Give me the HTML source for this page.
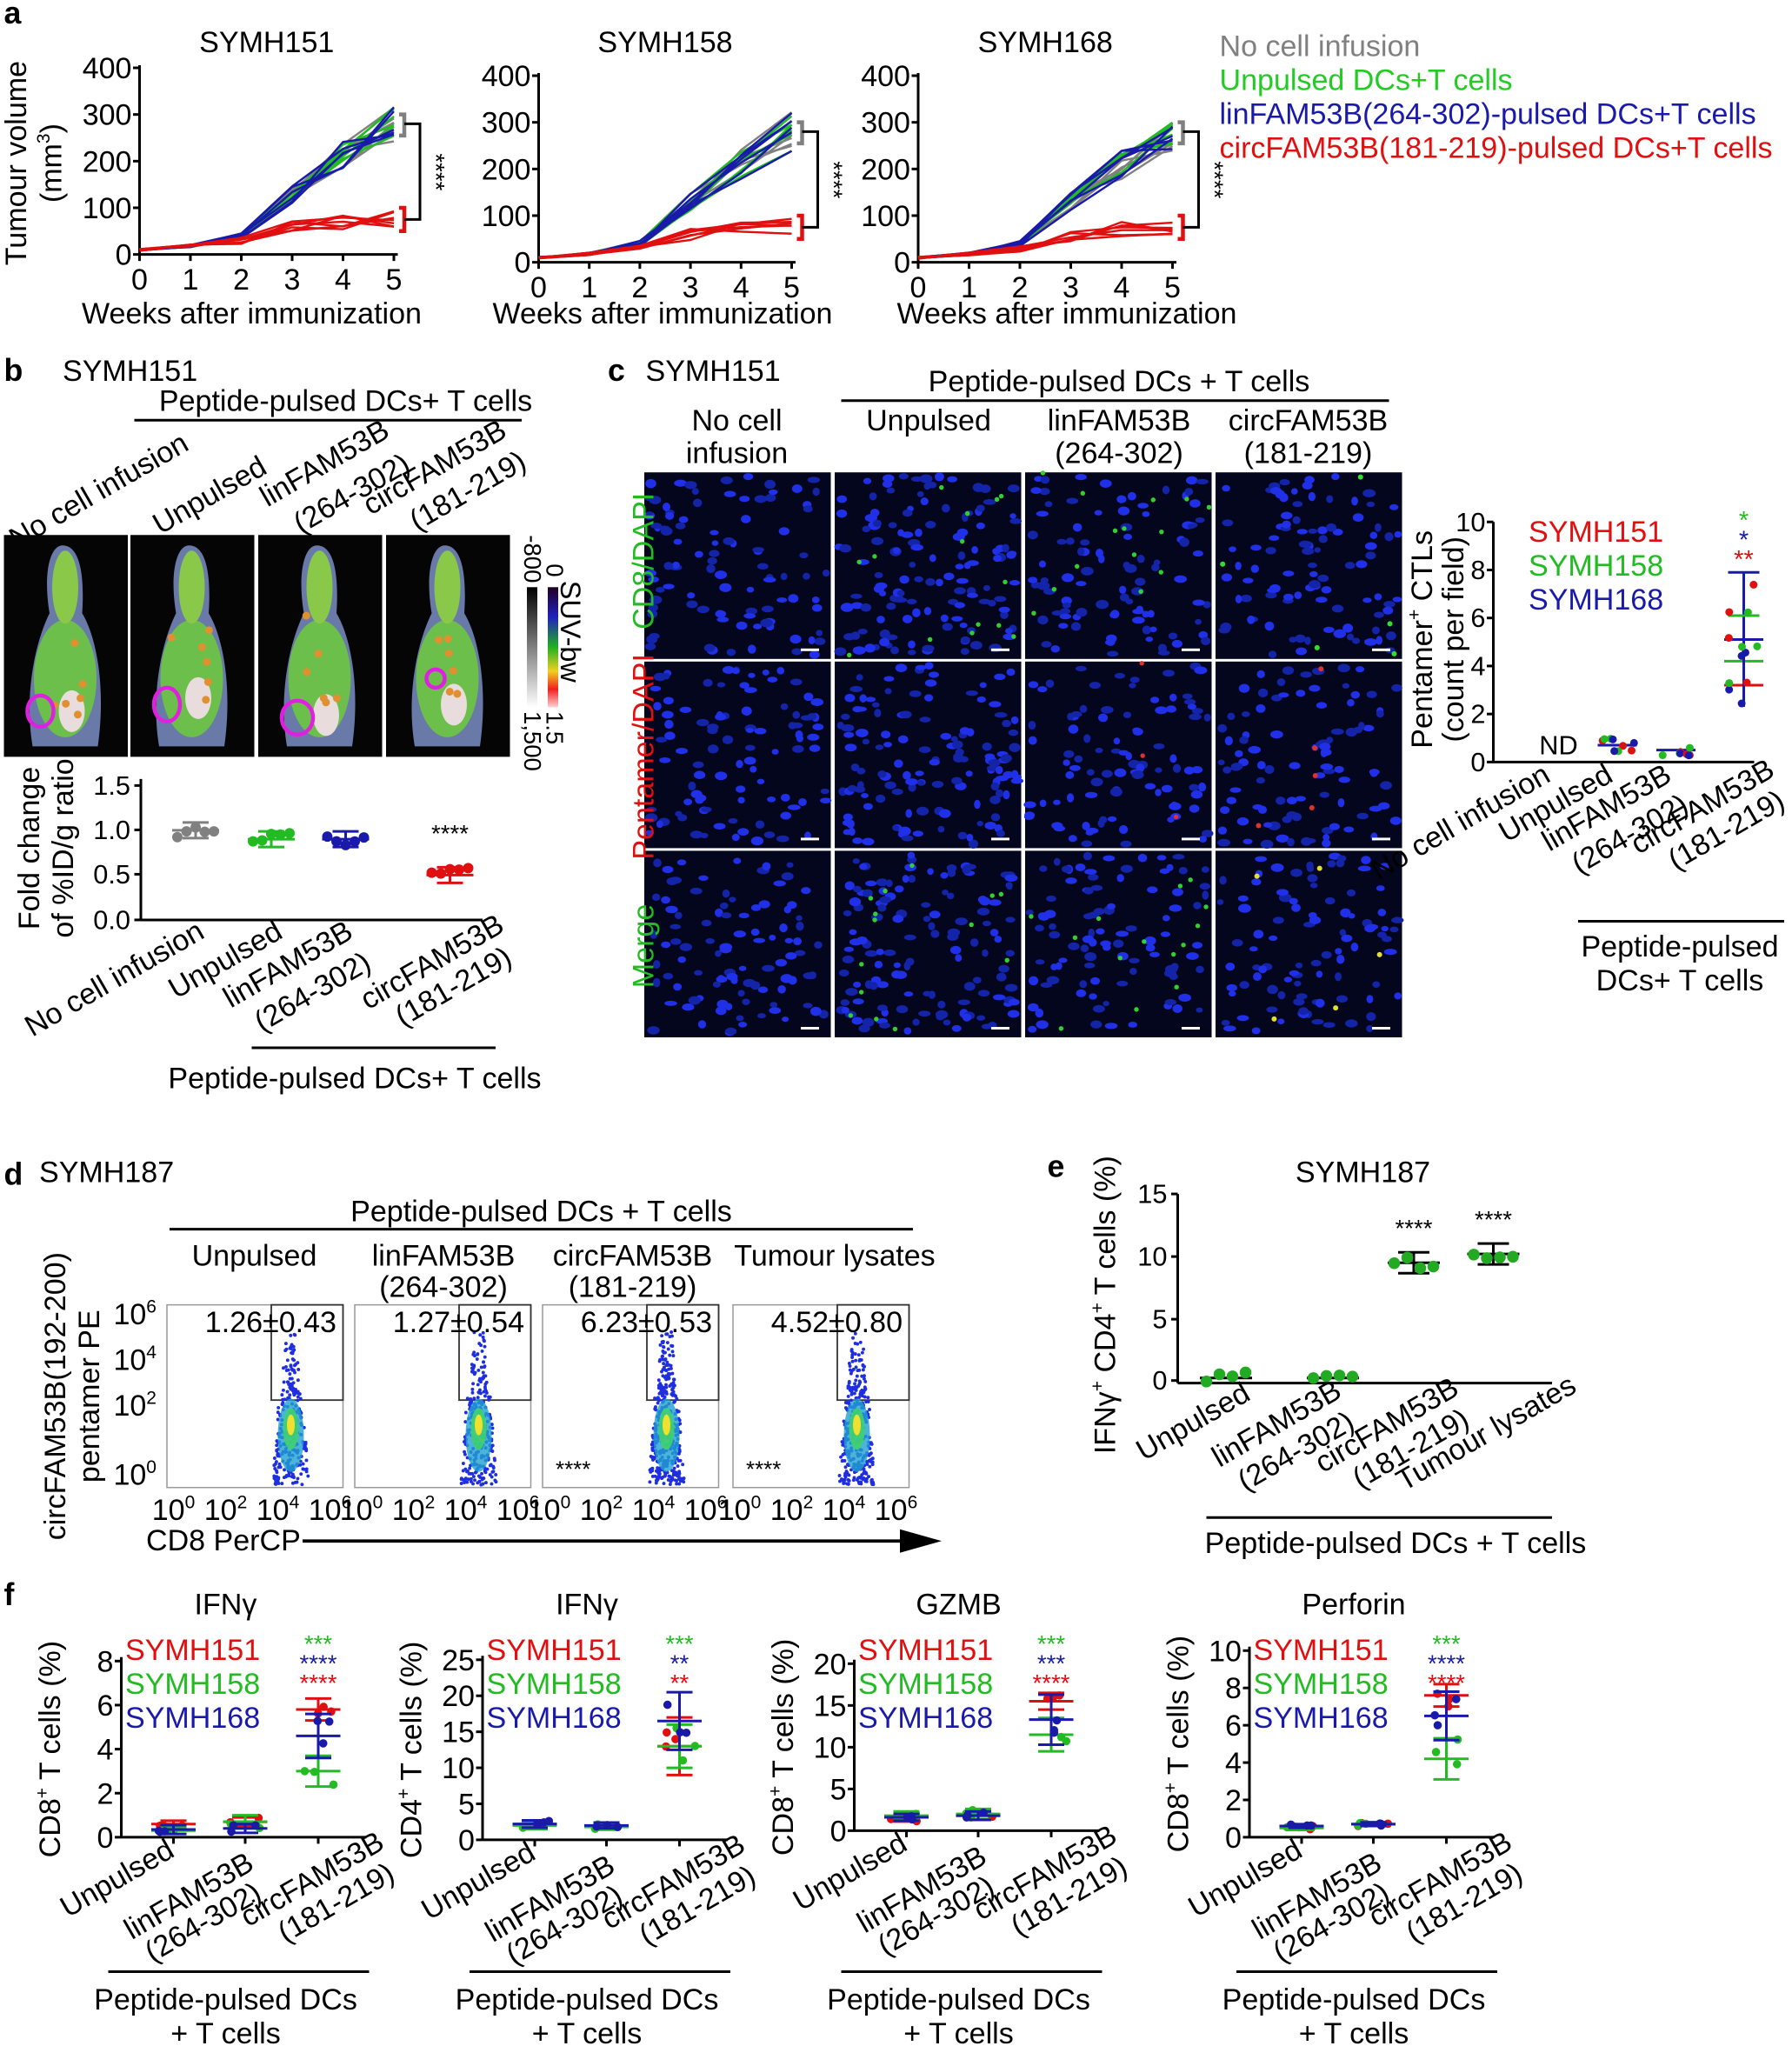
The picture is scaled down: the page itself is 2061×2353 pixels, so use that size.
<!DOCTYPE html>
<html><head><meta charset="utf-8"><style>html,body{margin:0;padding:0;background:#fff;overflow:hidden}svg{display:block}text{font-family:"Liberation Sans",Arial,sans-serif}</style></head>
<body>
<svg id="s" xmlns="http://www.w3.org/2000/svg" width="2061" height="2353" viewBox="0 0 1374 1568" preserveAspectRatio="none"></svg>
<script>
const S=document.getElementById('s');let H='';
let seed=7;function R(){seed=(seed*16807)%2147483647;return seed/2147483647;}
function T(x,y,s,o={}){const sz=(o.sz||21)*1.08,a=o.a||'start',c=o.c||'#000',w=o.w||'normal',r=o.r;
H+=`<text x="${x}" y="${y}" font-size="${sz.toFixed(1)}" fill="${c}" text-anchor="${a}" font-weight="${w}"${r!==undefined?` transform="rotate(${r} ${x} ${y})"`:''}>${s}</text>`;}
function L(x1,y1,x2,y2,c='#000',w=2){H+=`<line x1="${x1}" y1="${y1}" x2="${x2}" y2="${y2}" stroke="${c}" stroke-width="${w}"/>`;}
function Rc(x,y,w,h,f,st=''){H+=`<rect x="${x}" y="${y}" width="${w}" height="${h}" fill="${f}" ${st}/>`;}
function C(x,y,r,f){H+=`<circle cx="${x}" cy="${y}" r="${r}" fill="${f}"/>`;}
const GR='#808080',GN='#22bb22',BL='#1a1aaa',RD='#e01010';
const SUP=e=>`<tspan font-size="14" dy="-9">${e}</tspan>`;
// ---------- panel a
function chartA(x0,x5,y0,y4,title){
 const sx=w=>x0+(x5-x0)*w/5, sy=v=>y0-(y0-y4)*v/400;
 T((x0+x5)/2,40,title,{sz:21,a:'middle'});
 L(x0,y0,x5+3,y0);L(x0,y0,x0,y4-2);
 for(let i=0;i<=5;i++){L(sx(i),y0,sx(i),y0+5);T(sx(i),y0+27,i,{sz:21,a:'middle'});}
 for(let v=0;v<=400;v+=100){L(x0-5,sy(v),x0,sy(v));T(x0-6,sy(v)+8,v,{sz:21,a:'end'});}
 const base=[10,18,40,130,210,280],rb=[10,18,30,60,72,78];
 [[GR,6],[GN,6],[BL,6]].forEach(([c,n])=>{for(let k=0;k<n;k++){let p='';base.forEach((v,i)=>{const vv=v*(0.85+R()*0.3);p+=(i?'L':'M')+sx(i)+','+sy(vv);});H+=`<path d="${p}" stroke="${c}" fill="none" stroke-width="1.6"/>`;}});
 for(let k=0;k<7;k++){let p='';rb.forEach((v,i)=>{const vv=v*(0.75+R()*0.45);p+=(i?'L':'M')+sx(i)+','+sy(vv);});H+=`<path d="${p}" stroke="${RD}" fill="none" stroke-width="1.6"/>`;}
 const bx=x5+8;H+=`<path d="M${bx-4},${sy(300)}H${bx}V${sy(255)}H${bx-4}" stroke="${GR}" stroke-width="3" fill="none"/>`;
 H+=`<path d="M${bx-4},${sy(100)}H${bx}V${sy(50)}H${bx-4}" stroke="${RD}" stroke-width="3" fill="none"/>`;
 H+=`<path d="M${bx},${sy(280)}H${bx+12}V${sy(75)}H${bx}" stroke="#000" stroke-width="2" fill="none"/>`;
 T(bx+18,(sy(280)+sy(75))/2-14,'****',{sz:17,r:90});
}
chartA(107,302,195,52,'SYMH151');chartA(413,607,201,58,'SYMH158');chartA(704,899,201,58,'SYMH168');
T(20,125,'Tumour volume',{sz:21,a:'middle',r:-90});T(47,125,'(mm'+SUP('3')+'<tspan dy="9">)</tspan>',{sz:21,a:'middle',r:-90});
T(193,248,'Weeks after immunization',{sz:21,a:'middle'});T(508,248,'Weeks after immunization',{sz:21,a:'middle'});T(818,248,'Weeks after immunization',{sz:21,a:'middle'});
T(3,18,'a',{sz:22,w:'bold'});
T(935,43,'No cell infusion',{sz:21,c:GR});T(935,69,'Unpulsed DCs+T cells',{sz:21,c:'#22cc22'});T(935,95,'linFAM53B(264-302)-pulsed DCs+T cells',{sz:21,c:BL});T(935,121,'circFAM53B(181-219)-pulsed DCs+T cells',{sz:21,c:RD});
// ---------- panel b
T(3,292,'b',{sz:22,w:'bold'});T(48,292,'SYMH151',{sz:21});T(265,315,'Peptide-pulsed DCs+ T cells',{sz:21,a:'middle'});L(103,322,400,322);
T(146,344,'No cell infusion',{sz:21,a:'end',r:-30});T(206,362,'Unpulsed',{sz:21,a:'end',r:-30});T(300,334,'linFAM53B',{sz:21,a:'end',r:-30});T(316,360,'(264-302)',{sz:21,a:'end',r:-30});T(390,334,'circFAM53B',{sz:21,a:'end',r:-30});T(405,358,'(181-219)',{sz:21,a:'end',r:-30});
[3,100,198,296].forEach((x,i)=>{Rc(x,410,95,170,'#050505');
 H+=`<path d="M${x+45},${418} C${x+58},418 ${x+62},440 ${x+60},470 C${x+72},490 ${x+78},530 ${x+72},572 L${x+22},572 C${x+15},530 ${x+25},490 ${x+35},470 C${x+30},440 ${x+35},418 ${x+45},418 Z" fill="#6a7aa8"/>`;
 H+=`<ellipse cx="${x+47}" cy="${520}" rx="24" ry="45" fill="#6cbf4a"/><ellipse cx="${x+47}" cy="450" rx="10" ry="28" fill="#8ac84a"/><ellipse cx="${x+52}" cy="${[545,535,548,540][i]}" rx="10" ry="16" fill="#e8dcdc"/>`;
 for(let k=0;k<6;k++)C(x+30+R()*35,470+R()*80,3,'#e09030');
 H+=`<ellipse cx="${x+[28,28,30,38][i]}" cy="${[545,540,550,520][i]}" rx="${[10,10,12,7][i]}" ry="${[12,13,13,7][i]}" fill="none" stroke="#e020e0" stroke-width="3"/>`;});
H+=`<defs><linearGradient id="cg" x1="0" y1="0" x2="0" y2="1"><stop offset="0" stop-color="#000"/><stop offset="1" stop-color="#fff"/></linearGradient><linearGradient id="cb" x1="0" y1="0" x2="0" y2="1"><stop offset="0" stop-color="#200020"/><stop offset="0.25" stop-color="#2020c0"/><stop offset="0.5" stop-color="#20b020"/><stop offset="0.7" stop-color="#f0d020"/><stop offset="0.85" stop-color="#f02020"/><stop offset="1" stop-color="#ffd0d0"/></linearGradient></defs>`;
Rc(404,450,8,92,'url(#cg)');Rc(420,450,8,92,'url(#cb)');
T(402,410,'-800',{sz:17,r:90});T(419,432,'0',{sz:17,r:90});T(430,445,'SUV-bw',{sz:20,r:90});T(419,545,'1.5',{sz:17,r:90});T(402,545,'1,500',{sz:17,r:90});
// b scatter
L(108,597,108,705);L(108,705,370,705);[[1.5,602],[1.0,636],[0.5,670],[0.0,705]].forEach(([v,y])=>{L(103,y,108,y);T(100,y+7,v.toFixed(1),{sz:19,a:'end'});});
T(30,650,'Fold change',{sz:21,a:'middle',r:-90});T(56,650,'of %ID/g ratio',{sz:21,a:'middle',r:-90});
[[150,1.0,GR],[208,0.9,GN],[265,0.9,BL],[345,0.5,RD]].forEach(([x,v,c])=>{const y=705-v*68.7;L(x-18,y,x+18,y,c,2);L(x-10,y-6,x+10,y-6,c,2);L(x-10,y+6,x+10,y+6,c,2);L(x,y-6,x,y+6,c,2);for(let k=0;k<5;k++)C(x-14+k*7,y+(R()-0.5)*12,4,c);});
T(345,645,'****',{sz:17,a:'middle'});
T(158,718,'No cell infusion',{sz:21,a:'end',r:-30});T(218,718,'Unpulsed',{sz:21,a:'end',r:-30});T(272,718,'linFAM53B',{sz:21,a:'end',r:-30});T(286,742,'(264-302)',{sz:21,a:'end',r:-30});T(388,713,'circFAM53B',{sz:21,a:'end',r:-30});T(394,738,'(181-219)',{sz:21,a:'end',r:-30});
L(193,803,380,803);T(272,834,'Peptide-pulsed DCs+ T cells',{sz:21,a:'middle'});
// ---------- panel c
T(466,292,'c',{sz:22,w:'bold'});T(495,292,'SYMH151',{sz:21});T(858,300,'Peptide-pulsed DCs + T cells',{sz:21,a:'middle'});L(645,307,1065,307);
T(565,330,'No cell',{sz:21,a:'middle'});T(565,355,'infusion',{sz:21,a:'middle'});T(712,330,'Unpulsed',{sz:21,a:'middle'});T(858,330,'linFAM53B',{sz:21,a:'middle'});T(858,355,'(264-302)',{sz:21,a:'middle'});T(1003,330,'circFAM53B',{sz:21,a:'middle'});T(1003,355,'(181-219)',{sz:21,a:'middle'});
const cx=[494,640,786,932],cy=[362,507,652];
cy.forEach((y,j)=>cx.forEach((x,i)=>{Rc(x,y,143,143,'#04061e');for(let k=0;k<(i==1?130:95);k++){const ex=x+3+R()*137,ey=y+3+R()*137;H+=`<ellipse cx="${ex.toFixed(1)}" cy="${ey.toFixed(1)}" rx="${(2.5+R()*2.5).toFixed(1)}" ry="${(2+R()*1.5).toFixed(1)}" fill="${R()<0.5?'#1f30e8':'#1424a8'}"/>`;}
 if(j!=1&&(i==1||i==2))for(let k=0;k<14;k++)C(x+R()*143,y+R()*143,1.8,'#30d030');
 if(j==1&&i==2)for(let k=0;k<3;k++)C(x+R()*143,y+R()*143,1.8,'#e03030');
 if(i==3){for(let k=0;k<5;k++)C(x+R()*143,y+R()*143,2,j==0?'#30e030':j==1?'#e03030':'#e0e030');}
 Rc(x+120,y+135,14,2,'#fff');}));
T(501,430,'CD8/DAPI',{sz:21,a:'middle',r:-90,c:'#22bb22'});T(501,580,'Pentamer/DAPI',{sz:21,a:'middle',r:-90,c:RD});T(501,725,'Merge',{sz:21,a:'middle',r:-90,c:'#22bb22'});
// c scatter
L(1145,400,1145,584);L(1145,584,1345,584);[0,2,4,6,8,10].forEach(v=>{const y=584-v*18.4;L(1140,y,1145,y);T(1139,y+7,v,{sz:19,a:'end'});});
T(1098,490,'Pentamer'+SUP('+')+'<tspan dy="9"> CTLs</tspan>',{sz:21,a:'middle',r:-90});T(1122,490,'(count per field)',{sz:21,a:'middle',r:-90});
T(1172,415,'SYMH151',{sz:21,c:RD});T(1172,441,'SYMH158',{sz:21,c:GN});T(1172,467,'SYMH168',{sz:21,c:BL});
T(1195,578,'ND',{sz:19,a:'middle'});
[[1240,0.7],[1285,0.5]].forEach(([x,v])=>{const y=584-v*18.4;L(x-15,y,x+15,y,BL);for(let k=0;k<9;k++)C(x-14+R()*28,y+(R()-0.5)*10,3,[RD,GN,BL][k%3]);});
[[5.1,BL],[4.2,GN],[3.2,RD]].forEach(([v,c])=>{const y=584-v*18.4;L(1322,y,1352,y,c,2);});L(1337,584-7.9*18.4,1337,584-2.3*18.4,BL,2);L(1325,584-7.9*18.4,1349,584-7.9*18.4,BL,2);L(1325,584-6.1*18.4,1349,584-6.1*18.4,GN,2);
for(let k=0;k<12;k++)C(1325+R()*24,584-(2.3+R()*5.5)*18.4,3,[RD,GN,BL][k%3]);
T(1337,405,'*',{sz:18,a:'middle',c:GN});T(1337,420,'*',{sz:18,a:'middle',c:BL});T(1337,435,'**',{sz:18,a:'middle',c:RD});
T(1190,598,'No cell infusion',{sz:21,a:'end',r:-30});T(1238,598,'Unpulsed',{sz:21,a:'end',r:-30});T(1283,598,'linFAM53B',{sz:21,a:'end',r:-30});T(1296,621,'(264-302)',{sz:21,a:'end',r:-30});T(1362,594,'circFAM53B',{sz:21,a:'end',r:-30});T(1370,618,'(181-219)',{sz:21,a:'end',r:-30});
L(1210,706,1368,706);T(1288,733,'Peptide-pulsed',{sz:21,a:'middle'});T(1288,759,'DCs+ T cells',{sz:21,a:'middle'});
// ---------- panel d
T(3,908,'d',{sz:22,w:'bold'});T(30,906,'SYMH187',{sz:21});T(415,936,'Peptide-pulsed DCs + T cells',{sz:21,a:'middle'});L(130,942,700,942);
T(195,970,'Unpulsed',{sz:21,a:'middle'});T(340,970,'linFAM53B',{sz:21,a:'middle'});T(340,994,'(264-302)',{sz:21,a:'middle'});T(485,970,'circFAM53B',{sz:21,a:'middle'});T(485,994,'(181-219)',{sz:21,a:'middle'});T(640,970,'Tumour lysates',{sz:21,a:'middle'});
T(50,1070,'circFAM53B(192-200)',{sz:21,a:'middle',r:-90});T(76,1070,'pentamer PE',{sz:21,a:'middle',r:-90});
const px=[128,272,416,562],pct=['1.26±0.43','1.27±0.54','6.23±0.53','4.52±0.80'],dens=[1,1,1.4,1.2];
px.forEach((x,i)=>{Rc(x,1000,135,140,'none','stroke="#999" stroke-width="1"');Rc(x+80,1000,55,73,'none','stroke="#333" stroke-width="1.2"');
 for(let k=0;k<Math.round(260*dens[i]);k++){const yy=1000+20+Math.pow(R(),0.6)*118;const sp=4+(yy-1000)/140*10;const xx=x+95+(R()-0.5)*sp*2*(yy>1070?1:0.8);C(xx,yy,1.3,'#1f2fe0');}
 H+=`<ellipse cx="${x+95}" cy="1100" rx="10" ry="28" fill="#20a0d0" opacity="0.8"/><ellipse cx="${x+95}" cy="1095" rx="6" ry="16" fill="#40d070" opacity="0.9"/><ellipse cx="${x+95}" cy="1092" rx="3" ry="8" fill="#f0e030"/>`;
 T(x+130,1021,pct[i],{sz:21,a:'end'});if(i>=2)T(x+10,1132,'****',{sz:16});
 ['0','2','4','6'].forEach((e,k)=>T(x+5+k*40,1165,'10'+SUP(e),{sz:21,a:'middle'}));});
[['6',1015],['4',1050],['2',1085],['0',1138]].forEach(([e,y])=>T(120,y,'10'+SUP(e),{sz:21,a:'end'}));
T(112,1188,'CD8 PerCP',{sz:21});L(232,1181,700,1181,'#000',2.5);H+='<path d="M690,1172 L722,1181 L690,1190 Z" fill="#000"/>';
// ---------- panel e
T(803,902,'e',{sz:22,w:'bold'});T(1045,906,'SYMH187',{sz:21,a:'middle'});
L(903,915,903,1060);L(903,1060,1190,1060);[[15,915],[10,963],[5,1011],[0,1058]].forEach(([v,y])=>{L(898,y,903,y);T(895,y+7,v,{sz:19,a:'end'});});
T(855,1000,'IFNγ'+SUP('+')+'<tspan dy="9"> CD4</tspan>'+SUP('+')+'<tspan dy="9"> T cells (%)</tspan>',{sz:21,a:'middle',r:-90});
[[940,0.2],[1022,0.2],[1084,9.4],[1145,10.1]].forEach(([x,v])=>{const y=1058-v*9.6;L(x-20,y,x+20,y);if(v>1){L(x-12,y-8,x+12,y-8);L(x-12,y+8,x+12,y+8);L(x,y-8,x,y+8);T(x,y-20,'****',{sz:17,a:'middle'});}for(let k=0;k<4;k++)C(x-15+k*10,y+(R()-0.5)*10,4.5,'#22aa22');});
T(960,1072,'Unpulsed',{sz:21,a:'end',r:-30});T(1030,1070,'linFAM53B',{sz:21,a:'end',r:-30});T(1040,1094,'(264-302)',{sz:21,a:'end',r:-30});T(1120,1068,'circFAM53B',{sz:21,a:'end',r:-30});T(1128,1092,'(181-219)',{sz:21,a:'end',r:-30});T(1210,1066,'Tumour lysates',{sz:21,a:'end',r:-30});
L(925,1163,1190,1163);T(1070,1190,'Peptide-pulsed DCs + T cells',{sz:21,a:'middle'});
// ---------- panel f
T(3,1230,'f',{sz:22,w:'bold'});
function chartF(ax,y0,ytop,ticks,max,title,ylab,bars,stars){
 const sy=v=>y0-(y0-ytop)*v/max;T(ax+80,1237,title,{sz:21,a:'middle'});
 L(ax,ytop-3,ax,y0);L(ax,y0,ax+188,y0);ticks.forEach(v=>{L(ax-5,sy(v),ax,sy(v));T(ax-6,sy(v)+8,v,{sz:21,a:'end'});});
 [40,95,151].forEach(d=>L(ax+d,y0,ax+d,y0+5));
 T(ax-47,(y0+ytop)/2,ylab,{sz:21,a:'middle',r:-90});
 T(ax+3,1272,'SYMH151',{sz:21,c:RD});T(ax+3,1298,'SYMH158',{sz:21,c:GN});T(ax+3,1324,'SYMH168',{sz:21,c:BL});
 const gx=[ax+40,ax+95,ax+151];
 bars.forEach((g,i)=>g.forEach(([v,sd,c])=>{const y=sy(v);L(gx[i]-17,y,gx[i]+17,y,c,2);L(gx[i]-10,sy(v+sd),gx[i]+10,sy(v+sd),c,2);L(gx[i]-10,sy(v-sd),gx[i]+10,sy(v-sd),c,2);L(gx[i],sy(v+sd),gx[i],sy(v-sd),c,2);for(let k=0;k<3;k++)C(gx[i]-12+R()*24,sy(v+(R()-0.5)*sd*2),3.2,c);}));
 T(gx[2],1266,stars[0],{sz:17,a:'middle',c:GN});T(gx[2],1281,stars[1],{sz:17,a:'middle',c:BL});T(gx[2],1296,stars[2],{sz:17,a:'middle',c:RD});
 T(gx[0]+2,y0+14,'Unpulsed',{sz:21,a:'end',r:-30});T(gx[1]+8,y0+24,'linFAM53B',{sz:21,a:'end',r:-30});T(gx[1]+14,y0+47,'(264-302)',{sz:21,a:'end',r:-30});T(gx[2]+52,y0+8,'circFAM53B',{sz:21,a:'end',r:-30});T(gx[2]+60,y0+32,'(181-219)',{sz:21,a:'end',r:-30});
 L(ax-10,1511,ax+190,1511);T(ax+80,1540,'Peptide-pulsed DCs',{sz:21,a:'middle'});T(ax+80,1566,'+ T cells',{sz:21,a:'middle'});
}
const C8='CD8'+SUP('+')+'<tspan dy="9"> T cells (%)</tspan>',C4='CD4'+SUP('+')+'<tspan dy="9"> T cells (%)</tspan>';
chartF(93,1408,1273,[0,2,4,6,8],8,'IFNγ',C8,[[[0.6,0.15,RD],[0.3,0.15,GN],[0.35,0.2,BL]],[[0.7,0.2,RD],[0.7,0.3,GN],[0.4,0.2,BL]],[[5.8,0.5,RD],[3,0.7,GN],[4.6,1,BL]]],['***','****','****']);
chartF(370,1410,1272,[0,5,10,15,20,25],25,'IFNγ',C4,[[[2,0.5,GN],[2.2,0.5,BL]],[[1.8,0.4,GN],[2,0.4,BL]],[[13,4,RD],[13,3,GN],[16.5,4,BL]]],['***','**','**']);
chartF(655,1403,1275,[0,5,10,15,20],20,'GZMB',C8,[[[1.6,0.5,RD],[1.8,0.5,GN],[1.6,0.4,BL]],[[1.8,0.5,RD],[2,0.6,GN],[1.8,0.5,BL]],[[15.5,1,RD],[11.5,2,GN],[13.3,3,BL]]],['***','***','****']);
chartF(958,1408,1265,[0,2,4,6,8,10],10,'Perforin',C8,[[[0.5,0.1,RD],[0.5,0.1,GN],[0.6,0.1,BL]],[[0.7,0.1,RD],[0.7,0.1,GN],[0.7,0.1,BL]],[[7.6,0.6,RD],[4.2,1.1,GN],[6.5,1.3,BL]]],['***','****','****']);
S.innerHTML=H;
</script>
</body></html>
